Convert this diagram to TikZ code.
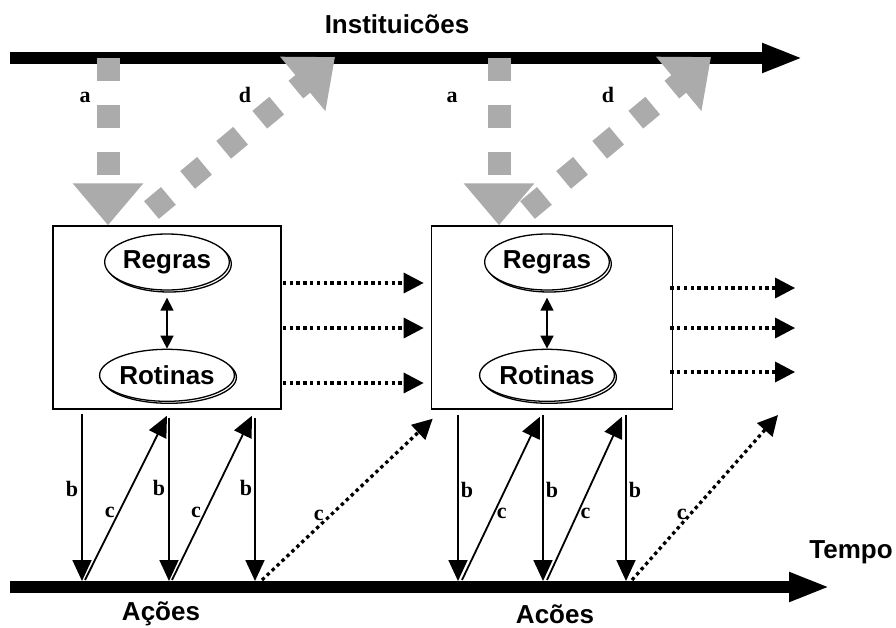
\documentclass[tikz,border=0pt]{standalone}
\usepackage{fontspec}
\setmainfont{Liberation Serif}
\setsansfont{Liberation Sans}
\usetikzlibrary{positioning,arrows.meta,shapes.geometric,shadows,calc}
\definecolor{instGray}{HTML}{ABABAB}

\begin{document}
\begin{tikzpicture}[
    x=1pt, y=-1pt,
    >={Triangle[length=21pt,width=19pt]},
    font=\sffamily\bfseries\fontsize{26}{30}\selectfont,
    tag/.style={font=\rmfamily\bfseries\fontsize{22}{24}\selectfont, inner sep=2pt},
    stage/.style={draw, line width=1.4pt, minimum height=183pt, inner sep=0pt},
    item/.style={ellipse, draw, fill=white, line width=1.3pt, inner sep=0pt,
      minimum width=118pt, minimum height=56pt,
      copy shadow={shadow xshift=2pt, shadow yshift=-2pt, line width=1.3pt}},
    timeline/.style={line width=12pt, -{Triangle[length=41pt,width=27pt]}},
    inst/.style={draw=instGray, line width=23pt, dash pattern=on 23pt off 24pt,
      -{Triangle[length=42pt,width=68pt]}},
    act/.style={->, line width=1.8pt},
    flow/.style={-{Triangle[length=20pt,width=20pt]}, line width=3.3pt,
      dash pattern=on 3.4pt off 3.4pt},
  ]
\useasboundingbox (0,0) rectangle (896,627);

% Time axes
\draw[timeline] (10,58) -- (803,58);
\draw[timeline] (10,587) -- (830,587);
\node[anchor=base] (inst) at (397,33) {Instituicões};
\node[anchor=base] (tempo) at (851,558) {Tempo};
\node[anchor=base] (acoesA) at (161,620) {Ações};
\node[anchor=base] (acoesB) at (555,623) {Acões};

% Stages
\node[stage, minimum width=228pt] (s1) at (167,317.5) {};
\node[stage, minimum width=241pt, right=149pt of s1] (s2) {};

\node[item] (regA) at (167,262) {Regras};
\node[item, minimum width=120pt, minimum height=52pt, below=58pt of regA] (rotA) {Rotinas};
\node[item] (regB) at (547,262) {Regras};
\node[item, minimum width=120pt, minimum height=52pt, below=58pt of regB] (rotB) {Rotinas};

\draw[<->, >={Triangle[length=13pt,width=13pt]}, line width=1.5pt, shorten <=7pt] (regA) -- (rotA);
\draw[<->, >={Triangle[length=13pt,width=13pt]}, line width=1.5pt, shorten <=7pt] (regB) -- (rotB);

% Institutions -> stages (a) and stages -> institutions (d)
\coordinate (instA) at (108,58);
\coordinate (instB) at (499,58);
\coordinate (backA) at (151.5,210);
\coordinate (backB) at (527.5,210);
\coordinate (topA) at (335,57);
\coordinate (topB) at (711,57);

\draw[inst] (instA) -- (s1.north -| instA);
\draw[inst] (instB) -- (s2.north -| instB);
\draw[inst, dash pattern=on 22pt off 25pt] (backA) -- (topA);
\draw[inst, dash pattern=on 22pt off 25pt] (backB) -- (topB);

\node[tag] (la1) at (85,97) {a};
\node[tag] (ld1) at (245,95) {d};
\node[tag] (la2) at (452,97) {a};
\node[tag] (ld2) at (608,95) {d};

% Stage to stage
\draw[flow] ($(s1.east)+(1,-34.5)$) -- ($(s2.west)+(-7,-34.5)$);
\draw[flow] ($(s1.east)+(1,10.5)$) -- ($(s2.west)+(-7,10.5)$);
\draw[flow] ($(s1.east)+(1,65.5)$) -- ($(s2.west)+(-7,65.5)$);
\draw[flow] ($(s2.east)+(-3,-29.5)$) -- ++(125,0);
\draw[flow] ($(s2.east)+(-3,10.5)$) -- ++(125,0);
\draw[flow] ($(s2.east)+(-3,54.5)$) -- ++(125,0);

% Actions (b) and feedback (c)
\coordinate (hA1) at (82,581);
\coordinate (hA2) at (169,581);
\coordinate (hA3) at (255,581);
\coordinate (hB1) at (458,581);
\coordinate (hB2) at (543,581);
\coordinate (hB3) at (626,581);
\coordinate (nextB) at (778,415);

\draw[act] ($(s1.south -| hA1)+(0,4)$) -- node[tag, left=1pt, pos=0.45] {b} (hA1);
\draw[act] ($(s1.south -| hA2)+(0,8)$) -- node[tag, left=1pt, pos=0.43] {b} (hA2);
\draw[act] ($(s1.south -| hA3)+(0,8)$) -- node[tag, left=0pt, pos=0.43] {b} (hA3);
\draw[act] ($(hA1)+(3,-1)$) -- node[tag, left=1pt, pos=0.41] {c} ($(s1.south -| hA2)+(-2,6)$);
\draw[act] ($(hA2)+(3,-1)$) -- node[tag, left=1pt, pos=0.41] {c} ($(s1.south -| hA3)+(-3,6)$);
\draw[flow] ($(hA3)+(7,-1)$) -- node[tag, left=3pt, pos=0.4] {c} ($(s2.south west)+(2,9)$);

\draw[act] ($(s2.south -| hB1)+(0,5)$) -- node[tag, right=0pt, pos=0.45] {b} (hB1);
\draw[act] ($(s2.south -| hB2)+(0,5)$) -- node[tag, right=0pt, pos=0.45] {b} (hB2);
\draw[act] ($(s2.south -| hB3)+(0,5)$) -- node[tag, right=0pt, pos=0.45] {b} (hB3);
\draw[act] ($(hB1)+(4,-1)$) -- node[tag, right=0pt, pos=0.41] {c} ($(s2.south -| hB2)+(-3,7)$);
\draw[act] ($(hB2)+(4,-1)$) -- node[tag, right=0pt, pos=0.41] {c} ($(s2.south -| hB3)+(-4,7)$);
\draw[flow] ($(hB3)+(6,-1)$) -- node[tag, left=0pt, pos=0.4] {c} (nextB);

\end{tikzpicture}
\end{document}
